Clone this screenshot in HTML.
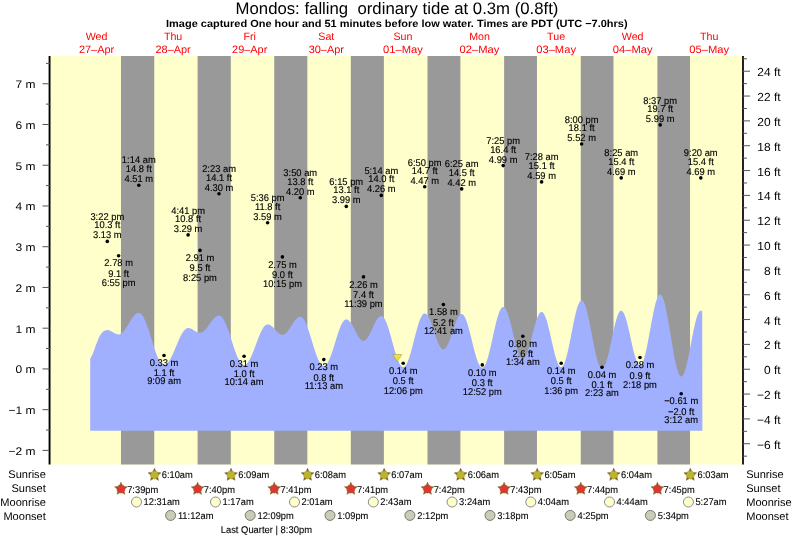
<!DOCTYPE html>
<html><head><meta charset="utf-8"><title>Mondos tide times</title>
<style>html,body{margin:0;padding:0;background:#fff}svg{display:block}text{font-family:"Liberation Sans",Arial,Helvetica,sans-serif;fill:#000;text-rendering:geometricPrecision}.t{font-size:9.8px;text-anchor:middle;fill:#000;stroke:#000;stroke-width:0.12px}.s{font-size:9.8px;stroke:#000;stroke-width:0.1px}.ax{font-size:11px}.ti{font-size:16.67px;text-anchor:middle}.su{font-size:10.4px;font-weight:bold;text-anchor:middle}.d{font-size:10.67px;fill:#ff0000;text-anchor:middle}.l{font-size:11.05px;text-anchor:end}</style></head><body>
<svg width="793" height="538" viewBox="0 0 793 538">
<rect width="793" height="538" fill="#fff"/>
<rect x="50" y="56" width="692" height="408.5" fill="#ffffcc"/>
<rect x="120.96" y="56" width="33.31" height="408.5" fill="#999999"/>
<rect x="197.60" y="56" width="33.20" height="408.5" fill="#999999"/>
<rect x="274.24" y="56" width="33.10" height="408.5" fill="#999999"/>
<rect x="350.83" y="56" width="33.05" height="408.5" fill="#999999"/>
<rect x="427.48" y="56" width="32.94" height="408.5" fill="#999999"/>
<rect x="504.12" y="56" width="32.83" height="408.5" fill="#999999"/>
<rect x="580.76" y="56" width="32.73" height="408.5" fill="#999999"/>
<rect x="657.41" y="56" width="32.62" height="408.5" fill="#999999"/>
<path d="M90.2,430.7L90.2,358.5L90.7,357.9L91.2,357.1L91.7,356.1L92.2,355.1L92.7,353.9L93.2,352.6L93.7,351.3L94.2,350.0L94.7,348.6L95.2,347.2L95.7,345.8L96.2,344.4L96.7,343.0L97.2,341.7L97.7,340.5L98.2,339.3L98.7,338.1L99.2,337.1L99.7,336.1L100.2,335.2L100.7,334.4L101.2,333.6L101.7,333.0L102.2,332.4L102.7,331.9L103.2,331.5L103.7,331.2L104.2,330.9L104.7,330.7L105.2,330.5L105.7,330.3L106.2,330.2L106.7,330.1L107.2,330.0L107.7,330.1L108.2,330.1L108.7,330.2L109.2,330.4L109.7,330.5L110.2,330.7L110.7,331.0L111.2,331.2L111.7,331.5L112.2,331.8L112.7,332.1L113.2,332.4L113.7,332.7L114.2,333.0L114.7,333.2L115.2,333.5L115.7,333.7L116.2,333.9L116.7,334.1L117.2,334.2L117.7,334.3L118.2,334.4L118.7,334.4L119.2,334.4L119.7,334.3L120.2,334.1L120.7,333.8L121.2,333.6L121.7,333.2L122.2,332.8L122.7,332.3L123.2,331.8L123.7,331.2L124.2,330.6L124.7,329.9L125.2,329.2L125.7,328.5L126.2,327.7L126.7,327.0L127.2,326.2L127.7,325.3L128.2,324.5L128.7,323.7L129.2,322.8L129.7,322.0L130.2,321.2L130.7,320.4L131.2,319.6L131.7,318.8L132.2,318.1L132.7,317.4L133.2,316.7L133.7,316.1L134.2,315.5L134.7,315.0L135.2,314.6L135.7,314.1L136.2,313.8L136.7,313.5L137.2,313.2L137.7,313.1L138.2,313.0L138.7,312.9L139.2,313.0L139.7,313.1L140.2,313.3L140.7,313.7L141.2,314.1L141.7,314.6L142.2,315.2L142.7,316.0L143.2,316.8L143.7,317.6L144.2,318.6L144.7,319.7L145.2,320.8L145.7,322.0L146.2,323.2L146.7,324.5L147.2,325.9L147.7,327.3L148.2,328.8L148.7,330.3L149.2,331.8L149.7,333.4L150.2,335.0L150.7,336.6L151.2,338.2L151.7,339.8L152.2,341.4L152.7,343.0L153.2,344.6L153.7,346.2L154.2,347.7L154.7,349.2L155.2,350.7L155.7,352.1L156.2,353.4L156.7,354.8L157.2,356.0L157.7,357.2L158.2,358.3L158.7,359.3L159.2,360.3L159.7,361.1L160.2,361.9L160.7,362.6L161.2,363.2L161.7,363.7L162.2,364.2L162.7,364.5L163.2,364.7L163.7,364.8L164.2,364.8L164.7,364.8L165.2,364.6L165.7,364.4L166.2,364.1L166.7,363.7L167.2,363.3L167.7,362.8L168.2,362.2L168.7,361.5L169.2,360.8L169.7,360.0L170.2,359.2L170.7,358.3L171.2,357.4L171.7,356.4L172.2,355.3L172.7,354.3L173.2,353.2L173.7,352.0L174.2,350.9L174.7,349.7L175.2,348.5L175.7,347.3L176.2,346.1L176.7,344.9L177.2,343.7L177.7,342.5L178.2,341.4L178.7,340.2L179.2,339.1L179.7,338.0L180.2,337.0L180.7,336.0L181.2,335.0L181.7,334.1L182.2,333.2L182.7,332.4L183.2,331.7L183.7,331.0L184.2,330.4L184.7,329.8L185.2,329.4L185.7,329.0L186.2,328.6L186.7,328.4L187.2,328.2L187.7,328.1L188.2,328.1L188.7,328.1L189.2,328.2L189.7,328.3L190.2,328.4L190.7,328.6L191.2,328.8L191.7,329.1L192.2,329.3L192.7,329.6L193.2,329.9L193.7,330.2L194.2,330.5L194.7,330.8L195.2,331.1L195.7,331.4L196.2,331.7L196.7,332.0L197.2,332.2L197.7,332.4L198.2,332.5L198.7,332.7L199.2,332.7L199.7,332.8L200.2,332.8L200.7,332.7L201.2,332.6L201.7,332.5L202.2,332.2L202.7,331.9L203.2,331.6L203.7,331.2L204.2,330.8L204.7,330.3L205.2,329.8L205.7,329.2L206.2,328.7L206.7,328.0L207.2,327.4L207.7,326.7L208.2,326.0L208.7,325.3L209.2,324.6L209.7,323.9L210.2,323.2L210.7,322.5L211.2,321.8L211.7,321.1L212.2,320.5L212.7,319.8L213.2,319.2L213.7,318.7L214.2,318.1L214.7,317.7L215.2,317.2L215.7,316.8L216.2,316.5L216.7,316.2L217.2,315.9L217.7,315.7L218.2,315.6L218.7,315.5L219.2,315.5L219.7,315.6L220.2,315.8L220.7,316.1L221.2,316.4L221.7,316.9L222.2,317.5L222.7,318.1L223.2,318.8L223.7,319.7L224.2,320.6L224.7,321.5L225.2,322.6L225.7,323.7L226.2,324.9L226.7,326.1L227.2,327.4L227.7,328.8L228.2,330.2L228.7,331.6L229.2,333.1L229.7,334.6L230.2,336.1L230.7,337.6L231.2,339.2L231.7,340.7L232.2,342.3L232.7,343.8L233.2,345.4L233.7,346.9L234.2,348.4L234.7,349.8L235.2,351.2L235.7,352.6L236.2,353.9L236.7,355.2L237.2,356.4L237.7,357.5L238.2,358.6L238.7,359.6L239.2,360.6L239.7,361.4L240.2,362.2L240.7,362.9L241.2,363.5L241.7,364.0L242.2,364.4L242.7,364.7L243.2,364.9L243.7,365.1L244.2,365.1L244.7,365.0L245.2,364.9L245.7,364.6L246.2,364.3L246.7,363.9L247.2,363.3L247.7,362.8L248.2,362.1L248.7,361.3L249.2,360.5L249.7,359.6L250.2,358.7L250.7,357.6L251.2,356.6L251.7,355.4L252.2,354.2L252.7,353.0L253.2,351.8L253.7,350.5L254.2,349.1L254.7,347.8L255.2,346.5L255.7,345.1L256.2,343.7L256.7,342.4L257.2,341.0L257.7,339.7L258.2,338.4L258.7,337.1L259.2,335.9L259.7,334.7L260.2,333.5L260.7,332.4L261.2,331.3L261.7,330.4L262.2,329.4L262.7,328.6L263.2,327.8L263.7,327.0L264.2,326.4L264.7,325.9L265.2,325.4L265.7,325.0L266.2,324.7L266.7,324.5L267.2,324.4L267.7,324.4L268.2,324.4L268.7,324.5L269.2,324.6L269.7,324.9L270.2,325.1L270.7,325.4L271.2,325.8L271.7,326.2L272.2,326.6L272.7,327.1L273.2,327.6L273.7,328.1L274.2,328.7L274.7,329.2L275.2,329.8L275.7,330.3L276.2,330.9L276.7,331.4L277.2,331.9L277.7,332.4L278.2,332.8L278.7,333.2L279.2,333.6L279.7,333.9L280.2,334.2L280.7,334.4L281.2,334.6L281.7,334.7L282.2,334.8L282.7,334.8L283.2,334.7L283.7,334.6L284.2,334.3L284.7,334.1L285.2,333.7L285.7,333.3L286.2,332.9L286.7,332.4L287.2,331.8L287.7,331.2L288.2,330.5L288.7,329.8L289.2,329.1L289.7,328.4L290.2,327.6L290.7,326.8L291.2,326.0L291.7,325.2L292.2,324.4L292.7,323.6L293.2,322.9L293.7,322.1L294.2,321.4L294.7,320.8L295.2,320.1L295.7,319.5L296.2,319.0L296.7,318.5L297.2,318.0L297.7,317.7L298.2,317.4L298.7,317.1L299.2,316.9L299.7,316.8L300.2,316.8L300.7,316.8L301.2,317.0L301.7,317.2L302.2,317.6L302.7,318.1L303.2,318.7L303.7,319.3L304.2,320.1L304.7,321.0L305.2,321.9L305.7,323.0L306.2,324.1L306.7,325.3L307.2,326.6L307.7,328.0L308.2,329.4L308.7,330.8L309.2,332.3L309.7,333.9L310.2,335.5L310.7,337.1L311.2,338.7L311.7,340.3L312.2,342.0L312.7,343.6L313.2,345.2L313.7,346.9L314.2,348.4L314.7,350.0L315.2,351.5L315.7,353.0L316.2,354.4L316.7,355.8L317.2,357.1L317.7,358.3L318.2,359.5L318.7,360.6L319.2,361.6L319.7,362.5L320.2,363.3L320.7,364.0L321.2,364.6L321.7,365.1L322.2,365.5L322.7,365.8L323.2,366.0L323.7,366.1L324.2,366.0L324.7,365.9L325.2,365.6L325.7,365.3L326.2,364.8L326.7,364.2L327.2,363.5L327.7,362.7L328.2,361.8L328.7,360.8L329.2,359.8L329.7,358.6L330.2,357.4L330.7,356.0L331.2,354.7L331.7,353.2L332.2,351.8L332.7,350.2L333.2,348.7L333.7,347.1L334.2,345.5L334.7,343.8L335.2,342.2L335.7,340.6L336.2,338.9L336.7,337.3L337.2,335.8L337.7,334.2L338.2,332.7L338.7,331.3L339.2,329.9L339.7,328.6L340.2,327.3L340.7,326.1L341.2,325.0L341.7,324.0L342.2,323.1L342.7,322.2L343.2,321.5L343.7,320.9L344.2,320.3L344.7,319.9L345.2,319.6L345.7,319.5L346.2,319.4L346.7,319.4L347.2,319.5L347.7,319.8L348.2,320.0L348.7,320.4L349.2,320.9L349.7,321.4L350.2,322.0L350.7,322.7L351.2,323.5L351.7,324.2L352.2,325.1L352.7,326.0L353.2,326.9L353.7,327.8L354.2,328.8L354.7,329.8L355.2,330.8L355.7,331.7L356.2,332.7L356.7,333.6L357.2,334.5L357.7,335.4L358.2,336.2L358.7,337.0L359.2,337.7L359.7,338.4L360.2,339.0L360.7,339.5L361.2,339.9L361.7,340.3L362.2,340.6L362.7,340.8L363.2,340.9L363.7,340.9L364.2,340.8L364.7,340.6L365.2,340.3L365.7,339.9L366.2,339.5L366.7,338.9L367.2,338.3L367.7,337.6L368.2,336.8L368.7,336.0L369.2,335.1L369.7,334.1L370.2,333.1L370.7,332.1L371.2,331.1L371.7,330.0L372.2,328.9L372.7,327.8L373.2,326.7L373.7,325.6L374.2,324.6L374.7,323.6L375.2,322.6L375.7,321.6L376.2,320.7L376.7,319.9L377.2,319.2L377.7,318.5L378.2,317.9L378.7,317.3L379.2,316.9L379.7,316.5L380.2,316.3L380.7,316.1L381.2,316.0L381.7,316.1L382.2,316.2L382.7,316.5L383.2,317.0L383.7,317.5L384.2,318.2L384.7,319.0L385.2,319.9L385.7,320.9L386.2,322.1L386.7,323.3L387.2,324.6L387.7,326.0L388.2,327.5L388.7,329.1L389.2,330.7L389.7,332.4L390.2,334.1L390.7,335.9L391.2,337.7L391.7,339.5L392.2,341.4L392.7,343.2L393.2,345.0L393.7,346.8L394.2,348.6L394.7,350.4L395.2,352.1L395.7,353.7L396.2,355.3L396.7,356.8L397.2,358.2L397.7,359.6L398.2,360.8L398.7,362.0L399.2,363.1L399.7,364.0L400.2,364.8L400.7,365.5L401.2,366.1L401.7,366.6L402.2,366.9L402.7,367.1L403.2,367.2L403.7,367.1L404.2,366.9L404.7,366.6L405.2,366.1L405.7,365.4L406.2,364.7L406.7,363.8L407.2,362.8L407.7,361.6L408.2,360.4L408.7,359.0L409.2,357.6L409.7,356.0L410.2,354.4L410.7,352.7L411.2,350.9L411.7,349.1L412.2,347.2L412.7,345.3L413.2,343.3L413.7,341.4L414.2,339.4L414.7,337.4L415.2,335.5L415.7,333.6L416.2,331.7L416.7,329.9L417.2,328.1L417.7,326.4L418.2,324.7L418.7,323.2L419.2,321.7L419.7,320.3L420.2,319.1L420.7,317.9L421.2,316.9L421.7,316.0L422.2,315.2L422.7,314.6L423.2,314.1L423.7,313.7L424.2,313.5L424.7,313.4L425.2,313.5L425.7,313.7L426.2,314.0L426.7,314.4L427.2,315.0L427.7,315.6L428.2,316.4L428.7,317.3L429.2,318.3L429.7,319.4L430.2,320.5L430.7,321.8L431.2,323.1L431.7,324.5L432.2,325.9L432.7,327.3L433.2,328.8L433.7,330.3L434.2,331.8L434.7,333.3L435.2,334.8L435.7,336.3L436.2,337.7L436.7,339.1L437.2,340.4L437.7,341.7L438.2,342.9L438.7,344.0L439.2,345.0L439.7,346.0L440.2,346.8L440.7,347.5L441.2,348.1L441.7,348.6L442.2,349.0L442.7,349.2L443.2,349.3L443.7,349.3L444.2,349.1L444.7,348.9L445.2,348.5L445.7,347.9L446.2,347.3L446.7,346.5L447.2,345.7L447.7,344.7L448.2,343.6L448.7,342.5L449.2,341.2L449.7,339.9L450.2,338.5L450.7,337.1L451.2,335.7L451.7,334.2L452.2,332.7L452.7,331.2L453.2,329.7L453.7,328.2L454.2,326.7L454.7,325.3L455.2,323.9L455.7,322.5L456.2,321.3L456.7,320.1L457.2,319.0L457.7,318.0L458.2,317.1L458.7,316.3L459.2,315.6L459.7,315.1L460.2,314.6L460.7,314.3L461.2,314.1L461.7,314.0L462.2,314.1L462.7,314.4L463.2,314.8L463.7,315.3L464.2,316.0L464.7,316.8L465.2,317.8L465.7,318.9L466.2,320.2L466.7,321.5L467.2,323.0L467.7,324.6L468.2,326.3L468.7,328.0L469.2,329.9L469.7,331.8L470.2,333.7L470.7,335.7L471.2,337.7L471.7,339.8L472.2,341.8L472.7,343.9L473.2,345.9L473.7,347.9L474.2,349.8L474.7,351.7L475.2,353.6L475.7,355.3L476.2,357.0L476.7,358.6L477.2,360.1L477.7,361.4L478.2,362.7L478.7,363.8L479.2,364.8L479.7,365.7L480.2,366.4L480.7,366.9L481.2,367.3L481.7,367.6L482.2,367.7L482.7,367.6L483.2,367.4L483.7,367.0L484.2,366.4L484.7,365.7L485.2,364.8L485.7,363.7L486.2,362.5L486.7,361.2L487.2,359.7L487.7,358.1L488.2,356.4L488.7,354.5L489.2,352.6L489.7,350.6L490.2,348.5L490.7,346.4L491.2,344.2L491.7,341.9L492.2,339.7L492.7,337.4L493.2,335.1L493.7,332.8L494.2,330.6L494.7,328.4L495.2,326.2L495.7,324.1L496.2,322.1L496.7,320.2L497.2,318.4L497.7,316.6L498.2,315.0L498.7,313.5L499.2,312.2L499.7,311.0L500.2,309.9L500.7,309.0L501.2,308.3L501.7,307.7L502.2,307.3L502.7,307.0L503.2,307.0L503.7,307.1L504.2,307.3L504.7,307.7L505.2,308.3L505.7,309.1L506.2,310.0L506.7,311.0L507.2,312.2L507.7,313.5L508.2,315.0L508.7,316.5L509.2,318.2L509.7,320.0L510.2,321.8L510.7,323.7L511.2,325.7L511.7,327.7L512.2,329.8L512.7,331.8L513.2,333.9L513.7,336.0L514.2,338.0L514.7,340.1L515.2,342.0L515.7,344.0L516.2,345.8L516.7,347.6L517.2,349.3L517.7,350.8L518.2,352.3L518.7,353.6L519.2,354.8L519.7,355.9L520.2,356.8L520.7,357.6L521.2,358.2L521.7,358.6L522.2,358.9L522.7,359.0L523.2,358.9L523.7,358.7L524.2,358.3L524.7,357.8L525.2,357.1L525.7,356.3L526.2,355.3L526.7,354.2L527.2,352.9L527.7,351.5L528.2,350.0L528.7,348.5L529.2,346.8L529.7,345.0L530.2,343.2L530.7,341.3L531.2,339.4L531.7,337.4L532.2,335.5L532.7,333.5L533.2,331.6L533.7,329.7L534.2,327.8L534.7,325.9L535.2,324.2L535.7,322.5L536.2,320.9L536.7,319.4L537.2,318.0L537.7,316.8L538.2,315.7L538.7,314.7L539.2,313.8L539.7,313.1L540.2,312.6L540.7,312.2L541.2,312.0L541.7,311.9L542.2,312.1L542.7,312.3L543.2,312.8L543.7,313.5L544.2,314.3L544.7,315.2L545.2,316.4L545.7,317.7L546.2,319.1L546.7,320.6L547.2,322.3L547.7,324.1L548.2,326.0L548.7,327.9L549.2,330.0L549.7,332.1L550.2,334.3L550.7,336.4L551.2,338.7L551.7,340.9L552.2,343.1L552.7,345.3L553.2,347.4L553.7,349.5L554.2,351.5L554.7,353.5L555.2,355.4L555.7,357.1L556.2,358.8L556.7,360.3L557.2,361.7L557.7,363.0L558.2,364.1L558.7,365.0L559.2,365.8L559.7,366.4L560.2,366.8L560.7,367.1L561.2,367.2L561.7,367.1L562.2,366.8L562.7,366.3L563.2,365.6L563.7,364.7L564.2,363.7L564.7,362.4L565.2,361.0L565.7,359.5L566.2,357.8L566.7,355.9L567.2,353.9L567.7,351.8L568.2,349.6L568.7,347.3L569.2,344.9L569.7,342.4L570.2,339.9L570.7,337.4L571.2,334.8L571.7,332.3L572.2,329.7L572.7,327.2L573.2,324.7L573.7,322.2L574.2,319.9L574.7,317.6L575.2,315.4L575.7,313.3L576.2,311.3L576.7,309.5L577.2,307.8L577.7,306.3L578.2,304.9L578.7,303.7L579.2,302.7L579.7,301.8L580.2,301.2L580.7,300.7L581.2,300.5L581.7,300.4L582.2,300.5L582.7,300.9L583.2,301.4L583.7,302.1L584.2,303.1L584.7,304.2L585.2,305.5L585.7,306.9L586.2,308.5L586.7,310.3L587.2,312.2L587.7,314.3L588.2,316.5L588.7,318.8L589.2,321.1L589.7,323.6L590.2,326.1L590.7,328.7L591.2,331.3L591.7,333.9L592.2,336.5L592.7,339.1L593.2,341.7L593.7,344.2L594.2,346.7L594.7,349.1L595.2,351.4L595.7,353.7L596.2,355.8L596.7,357.7L597.2,359.6L597.7,361.3L598.2,362.8L598.7,364.2L599.2,365.3L599.7,366.3L600.2,367.2L600.7,367.8L601.2,368.2L601.7,368.4L602.2,368.4L602.7,368.2L603.2,367.9L603.7,367.3L604.2,366.6L604.7,365.6L605.2,364.6L605.7,363.3L606.2,361.9L606.7,360.3L607.2,358.6L607.7,356.8L608.2,354.8L608.7,352.8L609.2,350.6L609.7,348.4L610.2,346.2L610.7,343.8L611.2,341.5L611.7,339.2L612.2,336.8L612.7,334.5L613.2,332.2L613.7,329.9L614.2,327.7L614.7,325.6L615.2,323.6L615.7,321.7L616.2,319.9L616.7,318.3L617.2,316.7L617.7,315.4L618.2,314.2L618.7,313.1L619.2,312.3L619.7,311.6L620.2,311.1L620.7,310.8L621.2,310.7L621.7,310.8L622.2,311.0L622.7,311.5L623.2,312.2L623.7,313.0L624.2,314.0L624.7,315.2L625.2,316.5L625.7,318.0L626.2,319.6L626.7,321.3L627.2,323.2L627.7,325.2L628.2,327.3L628.7,329.4L629.2,331.6L629.7,333.8L630.2,336.1L630.7,338.4L631.2,340.7L631.7,343.0L632.2,345.2L632.7,347.4L633.2,349.5L633.7,351.5L634.2,353.5L634.7,355.3L635.2,357.0L635.7,358.6L636.2,360.1L636.7,361.3L637.2,362.5L637.7,363.4L638.2,364.2L638.7,364.8L639.2,365.2L639.7,365.4L640.2,365.4L640.7,365.3L641.2,364.9L641.7,364.2L642.2,363.4L642.7,362.4L643.2,361.2L643.7,359.8L644.2,358.2L644.7,356.4L645.2,354.5L645.7,352.4L646.2,350.2L646.7,347.9L647.2,345.5L647.7,342.9L648.2,340.3L648.7,337.6L649.2,334.9L649.7,332.2L650.2,329.4L650.7,326.7L651.2,323.9L651.7,321.2L652.2,318.6L652.7,316.0L653.2,313.5L653.7,311.1L654.2,308.8L654.7,306.7L655.2,304.7L655.7,302.8L656.2,301.1L656.7,299.6L657.2,298.3L657.7,297.1L658.2,296.2L658.7,295.5L659.2,295.0L659.7,294.6L660.2,294.5L660.7,294.7L661.2,295.0L661.7,295.6L662.2,296.4L662.7,297.4L663.2,298.7L663.7,300.1L664.2,301.8L664.7,303.6L665.2,305.6L665.7,307.8L666.2,310.1L666.7,312.6L667.2,315.2L667.7,317.9L668.2,320.7L668.7,323.6L669.2,326.5L669.7,329.6L670.2,332.6L670.7,335.7L671.2,338.7L671.7,341.8L672.2,344.8L672.7,347.7L673.2,350.6L673.7,353.4L674.2,356.1L674.7,358.7L675.2,361.2L675.7,363.5L676.2,365.6L676.7,367.6L677.2,369.5L677.7,371.1L678.2,372.5L678.7,373.7L679.2,374.7L679.7,375.5L680.2,376.1L680.7,376.4L681.2,376.5L681.7,376.4L682.2,376.1L682.7,375.5L683.2,374.8L683.7,373.9L684.2,372.7L684.7,371.4L685.2,369.9L685.7,368.2L686.2,366.4L686.7,364.4L687.2,362.3L687.7,360.1L688.2,357.7L688.7,355.3L689.2,352.8L689.7,350.3L690.2,347.6L690.7,345.0L691.2,342.4L691.7,339.7L692.2,337.1L692.7,334.6L693.2,332.1L693.7,329.6L694.2,327.3L694.7,325.0L695.2,322.9L695.7,320.9L696.2,319.1L696.7,317.4L697.2,315.9L697.7,314.6L698.2,313.4L698.7,312.5L699.2,311.7L699.7,311.2L700.2,310.8L700.7,310.7L701.2,310.8L701.7,311.0L702.2,311.4L702.4,430.7Z" fill="#a0b0ff"/>
<rect x="48.6" y="56" width="1.9" height="408.5" fill="#000"/>
<rect x="742" y="56" width="2" height="408.5" fill="#222"/>
<rect x="42.5" y="449.91" width="7" height="1" fill="#555"/>
<text class="ax" transform="translate(35.40 454.76) scale(1.09 1)" text-anchor="end">−2 m</text>
<rect x="42.5" y="409.17" width="7" height="1" fill="#555"/>
<text class="ax" transform="translate(35.40 414.02) scale(1.09 1)" text-anchor="end">−1 m</text>
<rect x="42.5" y="368.43" width="7" height="1" fill="#555"/>
<text class="ax" transform="translate(35.40 373.28) scale(1.09 1)" text-anchor="end">0 m</text>
<rect x="42.5" y="327.69" width="7" height="1" fill="#555"/>
<text class="ax" transform="translate(35.40 332.54) scale(1.09 1)" text-anchor="end">1 m</text>
<rect x="42.5" y="286.95" width="7" height="1" fill="#555"/>
<text class="ax" transform="translate(35.40 291.80) scale(1.09 1)" text-anchor="end">2 m</text>
<rect x="42.5" y="246.21" width="7" height="1" fill="#555"/>
<text class="ax" transform="translate(35.40 251.06) scale(1.09 1)" text-anchor="end">3 m</text>
<rect x="42.5" y="205.47" width="7" height="1" fill="#555"/>
<text class="ax" transform="translate(35.40 210.32) scale(1.09 1)" text-anchor="end">4 m</text>
<rect x="42.5" y="164.73" width="7" height="1" fill="#555"/>
<text class="ax" transform="translate(35.40 169.58) scale(1.09 1)" text-anchor="end">5 m</text>
<rect x="42.5" y="123.99" width="7" height="1" fill="#555"/>
<text class="ax" transform="translate(35.40 128.84) scale(1.09 1)" text-anchor="end">6 m</text>
<rect x="42.5" y="83.25" width="7" height="1" fill="#555"/>
<text class="ax" transform="translate(35.40 88.10) scale(1.09 1)" text-anchor="end">7 m</text>
<rect x="46" y="429.54" width="4" height="1" fill="#555"/>
<rect x="46" y="388.80" width="4" height="1" fill="#555"/>
<rect x="46" y="348.06" width="4" height="1" fill="#555"/>
<rect x="46" y="307.32" width="4" height="1" fill="#555"/>
<rect x="46" y="266.58" width="4" height="1" fill="#555"/>
<rect x="46" y="225.84" width="4" height="1" fill="#555"/>
<rect x="46" y="185.10" width="4" height="1" fill="#555"/>
<rect x="46" y="144.36" width="4" height="1" fill="#555"/>
<rect x="46" y="103.62" width="4" height="1" fill="#555"/>
<rect x="46" y="62.88" width="4" height="1" fill="#555"/>
<rect x="743" y="455.65" width="4" height="1" fill="#555"/>
<rect x="743" y="443.24" width="7" height="1" fill="#555"/>
<text class="ax" transform="translate(780.70 448.74) scale(1.026 1)" text-anchor="end" style="font-size:11.7px">−6 ft</text>
<rect x="743" y="430.82" width="4" height="1" fill="#555"/>
<rect x="743" y="418.40" width="7" height="1" fill="#555"/>
<text class="ax" transform="translate(780.70 423.90) scale(1.026 1)" text-anchor="end" style="font-size:11.7px">−4 ft</text>
<rect x="743" y="405.98" width="4" height="1" fill="#555"/>
<rect x="743" y="393.57" width="7" height="1" fill="#555"/>
<text class="ax" transform="translate(780.70 399.07) scale(1.026 1)" text-anchor="end" style="font-size:11.7px">−2 ft</text>
<rect x="743" y="381.15" width="4" height="1" fill="#555"/>
<rect x="743" y="368.73" width="7" height="1" fill="#555"/>
<text class="ax" transform="translate(780.70 374.23) scale(1.026 1)" text-anchor="end" style="font-size:11.7px">0 ft</text>
<rect x="743" y="356.31" width="4" height="1" fill="#555"/>
<rect x="743" y="343.89" width="7" height="1" fill="#555"/>
<text class="ax" transform="translate(780.70 349.39) scale(1.026 1)" text-anchor="end" style="font-size:11.7px">2 ft</text>
<rect x="743" y="331.48" width="4" height="1" fill="#555"/>
<rect x="743" y="319.06" width="7" height="1" fill="#555"/>
<text class="ax" transform="translate(780.70 324.56) scale(1.026 1)" text-anchor="end" style="font-size:11.7px">4 ft</text>
<rect x="743" y="306.64" width="4" height="1" fill="#555"/>
<rect x="743" y="294.22" width="7" height="1" fill="#555"/>
<text class="ax" transform="translate(780.70 299.72) scale(1.026 1)" text-anchor="end" style="font-size:11.7px">6 ft</text>
<rect x="743" y="281.81" width="4" height="1" fill="#555"/>
<rect x="743" y="269.39" width="7" height="1" fill="#555"/>
<text class="ax" transform="translate(780.70 274.89) scale(1.026 1)" text-anchor="end" style="font-size:11.7px">8 ft</text>
<rect x="743" y="256.97" width="4" height="1" fill="#555"/>
<rect x="743" y="244.55" width="7" height="1" fill="#555"/>
<text class="ax" transform="translate(780.70 250.05) scale(1.026 1)" text-anchor="end" style="font-size:11.7px">10 ft</text>
<rect x="743" y="232.14" width="4" height="1" fill="#555"/>
<rect x="743" y="219.72" width="7" height="1" fill="#555"/>
<text class="ax" transform="translate(780.70 225.22) scale(1.026 1)" text-anchor="end" style="font-size:11.7px">12 ft</text>
<rect x="743" y="207.30" width="4" height="1" fill="#555"/>
<rect x="743" y="194.88" width="7" height="1" fill="#555"/>
<text class="ax" transform="translate(780.70 200.38) scale(1.026 1)" text-anchor="end" style="font-size:11.7px">14 ft</text>
<rect x="743" y="182.47" width="4" height="1" fill="#555"/>
<rect x="743" y="170.05" width="7" height="1" fill="#555"/>
<text class="ax" transform="translate(780.70 175.55) scale(1.026 1)" text-anchor="end" style="font-size:11.7px">16 ft</text>
<rect x="743" y="157.63" width="4" height="1" fill="#555"/>
<rect x="743" y="145.21" width="7" height="1" fill="#555"/>
<text class="ax" transform="translate(780.70 150.71) scale(1.026 1)" text-anchor="end" style="font-size:11.7px">18 ft</text>
<rect x="743" y="132.80" width="4" height="1" fill="#555"/>
<rect x="743" y="120.38" width="7" height="1" fill="#555"/>
<text class="ax" transform="translate(780.70 125.88) scale(1.026 1)" text-anchor="end" style="font-size:11.7px">20 ft</text>
<rect x="743" y="107.96" width="4" height="1" fill="#555"/>
<rect x="743" y="95.54" width="7" height="1" fill="#555"/>
<text class="ax" transform="translate(780.70 101.04) scale(1.026 1)" text-anchor="end" style="font-size:11.7px">22 ft</text>
<rect x="743" y="83.13" width="4" height="1" fill="#555"/>
<rect x="743" y="70.71" width="7" height="1" fill="#555"/>
<text class="ax" transform="translate(780.70 76.21) scale(1.026 1)" text-anchor="end" style="font-size:11.7px">24 ft</text>
<rect x="743" y="58.29" width="4" height="1" fill="#555"/>
<text class="ti" transform="translate(397.00 13.60) scale(1.005 1)" xml:space="preserve">Mondos: falling  ordinary tide at 0.3m (0.8ft)</text>
<text class="su" transform="translate(396.80 27.40) scale(1.0555 1)">Image captured One hour and 51 minutes before low water. Times are PDT (UTC −7.0hrs)</text>
<text class="d" x="96.5" y="39.9">Wed</text>
<text class="d" transform="translate(96.55 52.50) scale(1.025 1)">27–Apr</text>
<text class="d" x="173.1" y="39.9">Thu</text>
<text class="d" transform="translate(173.13 52.50) scale(1.025 1)">28–Apr</text>
<text class="d" x="249.7" y="39.9">Fri</text>
<text class="d" transform="translate(249.73 52.50) scale(1.025 1)">29–Apr</text>
<text class="d" x="326.3" y="39.9">Sat</text>
<text class="d" transform="translate(326.31 52.50) scale(1.025 1)">30–Apr</text>
<text class="d" x="402.9" y="39.9">Sun</text>
<text class="d" transform="translate(402.91 52.50) scale(1.05 1)">01–May</text>
<text class="d" x="479.5" y="39.9">Mon</text>
<text class="d" transform="translate(479.50 52.50) scale(1.05 1)">02–May</text>
<text class="d" x="556.1" y="39.9">Tue</text>
<text class="d" transform="translate(556.09 52.50) scale(1.05 1)">03–May</text>
<text class="d" x="632.7" y="39.9">Wed</text>
<text class="d" transform="translate(632.68 52.50) scale(1.05 1)">04–May</text>
<text class="d" x="709.3" y="39.9">Thu</text>
<text class="d" transform="translate(709.26 52.50) scale(1.05 1)">05–May</text>
<circle cx="107.3" cy="241.4" r="1.8" fill="#000"/>
<text class="t" transform="translate(107.29 220.21) scale(0.955 1)">3:22 pm</text>
<text class="t" transform="translate(107.29 228.46) scale(0.955 1)">10.3 ft</text>
<text class="t" transform="translate(107.29 238.31) scale(0.955 1)">3.13 m</text>
<circle cx="118.6" cy="255.7" r="1.8" fill="#000"/>
<text class="t" transform="translate(118.62 266.37) scale(0.955 1)">2.78 m</text>
<text class="t" transform="translate(118.62 276.67) scale(0.955 1)">9.1 ft</text>
<text class="t" transform="translate(118.62 285.97) scale(0.955 1)">6:55 pm</text>
<circle cx="138.8" cy="185.2" r="1.8" fill="#000"/>
<text class="t" transform="translate(138.78 163.39) scale(0.955 1)">1:14 am</text>
<text class="t" transform="translate(138.78 172.24) scale(0.955 1)">14.8 ft</text>
<text class="t" transform="translate(138.78 182.09) scale(0.955 1)">4.51 m</text>
<circle cx="164.0" cy="355.5" r="1.8" fill="#000"/>
<text class="t" transform="translate(164.04 366.19) scale(0.955 1)">0.33 m</text>
<text class="t" transform="translate(164.04 376.49) scale(0.955 1)">1.1 ft</text>
<text class="t" transform="translate(164.04 384.49) scale(0.955 1)">9:09 am</text>
<circle cx="188.1" cy="234.9" r="1.8" fill="#000"/>
<text class="t" transform="translate(188.08 213.70) scale(0.955 1)">4:41 pm</text>
<text class="t" transform="translate(188.08 221.95) scale(0.955 1)">10.8 ft</text>
<text class="t" transform="translate(188.08 231.80) scale(0.955 1)">3.29 m</text>
<circle cx="200.0" cy="250.4" r="1.8" fill="#000"/>
<text class="t" transform="translate(199.99 261.08) scale(0.955 1)">2.91 m</text>
<text class="t" transform="translate(199.99 271.38) scale(0.955 1)">9.5 ft</text>
<text class="t" transform="translate(199.99 280.68) scale(0.955 1)">8:25 pm</text>
<circle cx="219.0" cy="193.7" r="1.8" fill="#000"/>
<text class="t" transform="translate(219.04 171.95) scale(0.955 1)">2:23 am</text>
<text class="t" transform="translate(219.04 180.80) scale(0.955 1)">14.1 ft</text>
<text class="t" transform="translate(219.04 190.65) scale(0.955 1)">4.30 m</text>
<circle cx="244.1" cy="356.3" r="1.8" fill="#000"/>
<text class="t" transform="translate(244.09 367.00) scale(0.955 1)">0.31 m</text>
<text class="t" transform="translate(244.09 377.30) scale(0.955 1)">1.0 ft</text>
<text class="t" transform="translate(244.09 385.30) scale(0.955 1)">10:14 am</text>
<circle cx="267.6" cy="222.7" r="1.8" fill="#000"/>
<text class="t" transform="translate(267.60 201.47) scale(0.955 1)">5:36 pm</text>
<text class="t" transform="translate(267.60 209.72) scale(0.955 1)">11.8 ft</text>
<text class="t" transform="translate(267.60 219.57) scale(0.955 1)">3.59 m</text>
<circle cx="282.4" cy="256.9" r="1.8" fill="#000"/>
<text class="t" transform="translate(282.44 267.59) scale(0.955 1)">2.75 m</text>
<text class="t" transform="translate(282.44 277.89) scale(0.955 1)">9.0 ft</text>
<text class="t" transform="translate(282.44 287.19) scale(0.955 1)">10:15 pm</text>
<circle cx="300.3" cy="197.8" r="1.8" fill="#000"/>
<text class="t" transform="translate(300.25 176.02) scale(0.955 1)">3:50 am</text>
<text class="t" transform="translate(300.25 184.87) scale(0.955 1)">13.8 ft</text>
<text class="t" transform="translate(300.25 194.72) scale(0.955 1)">4.20 m</text>
<circle cx="323.8" cy="359.6" r="1.8" fill="#000"/>
<text class="t" transform="translate(323.82 370.26) scale(0.955 1)">0.23 m</text>
<text class="t" transform="translate(323.82 380.56) scale(0.955 1)">0.8 ft</text>
<text class="t" transform="translate(323.82 388.56) scale(0.955 1)">11:13 am</text>
<circle cx="346.3" cy="206.4" r="1.8" fill="#000"/>
<text class="t" transform="translate(346.26 185.18) scale(0.955 1)">6:15 pm</text>
<text class="t" transform="translate(346.26 193.43) scale(0.955 1)">13.1 ft</text>
<text class="t" transform="translate(346.26 203.28) scale(0.955 1)">3.99 m</text>
<circle cx="363.5" cy="276.9" r="1.8" fill="#000"/>
<text class="t" transform="translate(363.49 287.56) scale(0.955 1)">2.26 m</text>
<text class="t" transform="translate(363.49 297.86) scale(0.955 1)">7.4 ft</text>
<text class="t" transform="translate(363.49 307.16) scale(0.955 1)">11:39 pm</text>
<circle cx="381.3" cy="195.4" r="1.8" fill="#000"/>
<text class="t" transform="translate(381.31 173.58) scale(0.955 1)">5:14 am</text>
<text class="t" transform="translate(381.31 182.43) scale(0.955 1)">14.0 ft</text>
<text class="t" transform="translate(381.31 192.28) scale(0.955 1)">4.26 m</text>
<circle cx="403.2" cy="363.2" r="1.8" fill="#000"/>
<text class="t" transform="translate(403.22 373.93) scale(0.955 1)">0.14 m</text>
<text class="t" transform="translate(403.22 384.23) scale(0.955 1)">0.5 ft</text>
<text class="t" transform="translate(403.22 393.53) scale(0.955 1)">12:06 pm</text>
<circle cx="424.7" cy="186.8" r="1.8" fill="#000"/>
<text class="t" transform="translate(424.71 165.62) scale(0.955 1)">6:50 pm</text>
<text class="t" transform="translate(424.71 173.87) scale(0.955 1)">14.7 ft</text>
<text class="t" transform="translate(424.71 183.72) scale(0.955 1)">4.47 m</text>
<circle cx="443.4" cy="304.6" r="1.8" fill="#000"/>
<text class="t" transform="translate(443.38 315.26) scale(0.955 1)">1.58 m</text>
<text class="t" transform="translate(443.38 325.56) scale(0.955 1)">5.2 ft</text>
<text class="t" transform="translate(443.38 333.56) scale(0.955 1)">12:41 am</text>
<circle cx="461.7" cy="188.9" r="1.8" fill="#000"/>
<text class="t" transform="translate(461.68 167.06) scale(0.955 1)">6:25 am</text>
<text class="t" transform="translate(461.68 175.91) scale(0.955 1)">14.5 ft</text>
<text class="t" transform="translate(461.68 185.76) scale(0.955 1)">4.42 m</text>
<circle cx="482.3" cy="364.9" r="1.8" fill="#000"/>
<text class="t" transform="translate(482.26 375.56) scale(0.955 1)">0.10 m</text>
<text class="t" transform="translate(482.26 385.86) scale(0.955 1)">0.3 ft</text>
<text class="t" transform="translate(482.26 395.16) scale(0.955 1)">12:52 pm</text>
<circle cx="503.2" cy="165.6" r="1.8" fill="#000"/>
<text class="t" transform="translate(503.16 144.44) scale(0.955 1)">7:25 pm</text>
<text class="t" transform="translate(503.16 152.69) scale(0.955 1)">16.4 ft</text>
<text class="t" transform="translate(503.16 162.54) scale(0.955 1)">4.99 m</text>
<circle cx="522.8" cy="336.3" r="1.8" fill="#000"/>
<text class="t" transform="translate(522.79 347.04) scale(0.955 1)">0.80 m</text>
<text class="t" transform="translate(522.79 357.34) scale(0.955 1)">2.6 ft</text>
<text class="t" transform="translate(522.79 365.34) scale(0.955 1)">1:34 am</text>
<circle cx="541.6" cy="181.9" r="1.8" fill="#000"/>
<text class="t" transform="translate(541.62 160.13) scale(0.955 1)">7:28 am</text>
<text class="t" transform="translate(541.62 168.98) scale(0.955 1)">15.1 ft</text>
<text class="t" transform="translate(541.62 178.83) scale(0.955 1)">4.59 m</text>
<circle cx="561.2" cy="363.2" r="1.8" fill="#000"/>
<text class="t" transform="translate(561.19 373.93) scale(0.955 1)">0.14 m</text>
<text class="t" transform="translate(561.19 384.23) scale(0.955 1)">0.5 ft</text>
<text class="t" transform="translate(561.19 393.53) scale(0.955 1)">1:36 pm</text>
<circle cx="581.6" cy="144.0" r="1.8" fill="#000"/>
<text class="t" transform="translate(581.62 122.85) scale(0.955 1)">8:00 pm</text>
<text class="t" transform="translate(581.62 131.10) scale(0.955 1)">18.1 ft</text>
<text class="t" transform="translate(581.62 140.95) scale(0.955 1)">5.52 m</text>
<circle cx="602.0" cy="367.3" r="1.8" fill="#000"/>
<text class="t" transform="translate(601.99 378.00) scale(0.955 1)">0.04 m</text>
<text class="t" transform="translate(601.99 388.30) scale(0.955 1)">0.1 ft</text>
<text class="t" transform="translate(601.99 396.30) scale(0.955 1)">2:23 am</text>
<circle cx="621.2" cy="177.9" r="1.8" fill="#000"/>
<text class="t" transform="translate(621.24 156.06) scale(0.955 1)">8:25 am</text>
<text class="t" transform="translate(621.24 164.91) scale(0.955 1)">15.4 ft</text>
<text class="t" transform="translate(621.24 174.76) scale(0.955 1)">4.69 m</text>
<circle cx="640.0" cy="357.5" r="1.8" fill="#000"/>
<text class="t" transform="translate(640.01 368.22) scale(0.955 1)">0.28 m</text>
<text class="t" transform="translate(640.01 378.52) scale(0.955 1)">0.9 ft</text>
<text class="t" transform="translate(640.01 387.82) scale(0.955 1)">2:18 pm</text>
<circle cx="660.2" cy="124.9" r="1.8" fill="#000"/>
<text class="t" transform="translate(660.17 103.70) scale(0.955 1)">8:37 pm</text>
<text class="t" transform="translate(660.17 111.95) scale(0.955 1)">19.7 ft</text>
<text class="t" transform="translate(660.17 121.80) scale(0.955 1)">5.99 m</text>
<circle cx="681.2" cy="393.8" r="1.8" fill="#000"/>
<text class="t" transform="translate(681.18 404.48) scale(0.955 1)">−0.61 m</text>
<text class="t" transform="translate(681.18 414.78) scale(0.955 1)">−2.0 ft</text>
<text class="t" transform="translate(681.18 422.78) scale(0.955 1)">3:12 am</text>
<circle cx="700.8" cy="177.9" r="1.8" fill="#000"/>
<text class="t" transform="translate(700.76 156.06) scale(0.955 1)">9:20 am</text>
<text class="t" transform="translate(700.76 164.91) scale(0.955 1)">15.4 ft</text>
<text class="t" transform="translate(700.76 174.76) scale(0.955 1)">4.69 m</text>
<polygon points="392.7,354.5 401.8,354.5 397.25,361.6" fill="#ebe43c" stroke="#8f8a30" stroke-width="0.45"/>
<text class="l" x="45.8" y="478.3">Sunrise</text>
<text class="l" x="746.2" y="478.3" style="text-anchor:start">Sunrise</text>
<text class="l" x="45.8" y="492.2">Sunset</text>
<text class="l" x="746.2" y="492.2" style="text-anchor:start">Sunset</text>
<text class="l" x="45.8" y="505.8">Moonrise</text>
<text class="l" x="746.2" y="505.8" style="text-anchor:start">Moonrise</text>
<text class="l" x="45.8" y="519.6">Moonset</text>
<text class="l" x="746.2" y="519.6" style="text-anchor:start">Moonset</text>
<polygon points="154.52,468.20 156.34,472.39 160.89,472.83 157.47,475.86 158.46,480.32 154.52,478.00 150.58,480.32 151.57,475.86 148.15,472.83 152.70,472.39" fill="#85601c" stroke="#85601c" stroke-width="0.5"/><polygon points="157.05,471.42 158.61,476.23 154.52,479.20 150.43,476.23 151.99,471.42" fill="#b9b432" stroke="#b9b432" stroke-width="0.6" stroke-linejoin="round"/>
<text class="s" transform="translate(161.72 477.50) scale(0.952 1)">6:10am</text>
<polygon points="120.96,482.20 122.78,486.39 127.33,486.83 123.91,489.86 124.90,494.32 120.96,492.00 117.02,494.32 118.01,489.86 114.59,486.83 119.14,486.39" fill="#85601c" stroke="#85601c" stroke-width="0.5"/><polygon points="123.49,485.42 125.05,490.23 120.96,493.20 116.87,490.23 118.43,485.42" fill="#dc3732" stroke="#dc3732" stroke-width="0.6" stroke-linejoin="round"/>
<text class="s" transform="translate(127.16 492.80) scale(0.952 1)">7:39pm</text>
<circle cx="136.5" cy="502" r="5" fill="#ffffcc" stroke="#8c8c8c" stroke-width="1"/>
<text class="s" transform="translate(143.54 505.40) scale(0.952 1)">12:31am</text>
<polygon points="231.06,468.20 232.88,472.39 237.43,472.83 234.00,475.86 234.99,480.32 231.06,478.00 227.12,480.32 228.11,475.86 224.68,472.83 229.23,472.39" fill="#85601c" stroke="#85601c" stroke-width="0.5"/><polygon points="233.58,471.42 235.15,476.23 231.06,479.20 226.97,476.23 228.53,471.42" fill="#b9b432" stroke="#b9b432" stroke-width="0.6" stroke-linejoin="round"/>
<text class="s" transform="translate(238.26 477.50) scale(0.952 1)">6:09am</text>
<polygon points="197.60,482.20 199.42,486.39 203.97,486.83 200.55,489.86 201.54,494.32 197.60,492.00 193.66,494.32 194.65,489.86 191.23,486.83 195.78,486.39" fill="#85601c" stroke="#85601c" stroke-width="0.5"/><polygon points="200.13,485.42 201.69,490.23 197.60,493.20 193.51,490.23 195.07,485.42" fill="#dc3732" stroke="#dc3732" stroke-width="0.6" stroke-linejoin="round"/>
<text class="s" transform="translate(203.80 492.80) scale(0.952 1)">7:40pm</text>
<circle cx="215.5" cy="502" r="5" fill="#ffffcc" stroke="#8c8c8c" stroke-width="1"/>
<text class="s" transform="translate(222.58 505.40) scale(0.952 1)">1:17am</text>
<polygon points="307.59,468.20 309.42,472.39 313.97,472.83 310.54,475.86 311.53,480.32 307.59,478.00 303.65,480.32 304.64,475.86 301.22,472.83 305.77,472.39" fill="#85601c" stroke="#85601c" stroke-width="0.5"/><polygon points="310.12,471.42 311.68,476.23 307.59,479.20 303.50,476.23 305.07,471.42" fill="#b9b432" stroke="#b9b432" stroke-width="0.6" stroke-linejoin="round"/>
<text class="s" transform="translate(314.79 477.50) scale(0.952 1)">6:08am</text>
<polygon points="274.24,482.20 276.07,486.39 280.62,486.83 277.19,489.86 278.18,494.32 274.24,492.00 270.31,494.32 271.30,489.86 267.87,486.83 272.42,486.39" fill="#85601c" stroke="#85601c" stroke-width="0.5"/><polygon points="276.77,485.42 278.33,490.23 274.24,493.20 270.15,490.23 271.72,485.42" fill="#dc3732" stroke="#dc3732" stroke-width="0.6" stroke-linejoin="round"/>
<text class="s" transform="translate(280.44 492.80) scale(0.952 1)">7:41pm</text>
<circle cx="294.5" cy="502" r="5" fill="#ffffcc" stroke="#8c8c8c" stroke-width="1"/>
<text class="s" transform="translate(301.51 505.40) scale(0.952 1)">2:01am</text>
<polygon points="384.13,468.20 385.95,472.39 390.50,472.83 387.08,475.86 388.07,480.32 384.13,478.00 380.19,480.32 381.18,475.86 377.76,472.83 382.31,472.39" fill="#85601c" stroke="#85601c" stroke-width="0.5"/><polygon points="386.66,471.42 388.22,476.23 384.13,479.20 380.04,476.23 381.60,471.42" fill="#b9b432" stroke="#b9b432" stroke-width="0.6" stroke-linejoin="round"/>
<text class="s" transform="translate(391.33 477.50) scale(0.952 1)">6:07am</text>
<polygon points="350.83,482.20 352.66,486.39 357.21,486.83 353.78,489.86 354.77,494.32 350.83,492.00 346.90,494.32 347.89,489.86 344.46,486.83 349.01,486.39" fill="#85601c" stroke="#85601c" stroke-width="0.5"/><polygon points="353.36,485.42 354.92,490.23 350.83,493.20 346.74,490.23 348.31,485.42" fill="#dc3732" stroke="#dc3732" stroke-width="0.6" stroke-linejoin="round"/>
<text class="s" transform="translate(357.03 492.80) scale(0.952 1)">7:41pm</text>
<circle cx="373.3" cy="502" r="5" fill="#ffffcc" stroke="#8c8c8c" stroke-width="1"/>
<text class="s" transform="translate(380.33 505.40) scale(0.952 1)">2:43am</text>
<polygon points="460.67,468.20 462.49,472.39 467.04,472.83 463.61,475.86 464.60,480.32 460.67,478.00 456.73,480.32 457.72,475.86 454.29,472.83 458.84,472.39" fill="#85601c" stroke="#85601c" stroke-width="0.5"/><polygon points="463.19,471.42 464.76,476.23 460.67,479.20 456.58,476.23 458.14,471.42" fill="#b9b432" stroke="#b9b432" stroke-width="0.6" stroke-linejoin="round"/>
<text class="s" transform="translate(467.87 477.50) scale(0.952 1)">6:06am</text>
<polygon points="427.48,482.20 429.30,486.39 433.85,486.83 430.43,489.86 431.42,494.32 427.48,492.00 423.54,494.32 424.53,489.86 421.11,486.83 425.66,486.39" fill="#85601c" stroke="#85601c" stroke-width="0.5"/><polygon points="430.01,485.42 431.57,490.23 427.48,493.20 423.39,490.23 424.95,485.42" fill="#dc3732" stroke="#dc3732" stroke-width="0.6" stroke-linejoin="round"/>
<text class="s" transform="translate(433.68 492.80) scale(0.952 1)">7:42pm</text>
<circle cx="452.1" cy="502" r="5" fill="#ffffcc" stroke="#8c8c8c" stroke-width="1"/>
<text class="s" transform="translate(459.10 505.40) scale(0.952 1)">3:24am</text>
<polygon points="537.20,468.20 539.03,472.39 543.58,472.83 540.15,475.86 541.14,480.32 537.20,478.00 533.27,480.32 534.26,475.86 530.83,472.83 535.38,472.39" fill="#85601c" stroke="#85601c" stroke-width="0.5"/><polygon points="539.73,471.42 541.29,476.23 537.20,479.20 533.11,476.23 534.68,471.42" fill="#b9b432" stroke="#b9b432" stroke-width="0.6" stroke-linejoin="round"/>
<text class="s" transform="translate(544.40 477.50) scale(0.952 1)">6:05am</text>
<polygon points="504.12,482.20 505.94,486.39 510.49,486.83 507.07,489.86 508.06,494.32 504.12,492.00 500.18,494.32 501.17,489.86 497.75,486.83 502.30,486.39" fill="#85601c" stroke="#85601c" stroke-width="0.5"/><polygon points="506.65,485.42 508.21,490.23 504.12,493.20 500.03,490.23 501.59,485.42" fill="#dc3732" stroke="#dc3732" stroke-width="0.6" stroke-linejoin="round"/>
<text class="s" transform="translate(510.32 492.80) scale(0.952 1)">7:43pm</text>
<circle cx="530.8" cy="502" r="5" fill="#ffffcc" stroke="#8c8c8c" stroke-width="1"/>
<text class="s" transform="translate(537.82 505.40) scale(0.952 1)">4:04am</text>
<polygon points="613.74,468.20 615.56,472.39 620.11,472.83 616.69,475.86 617.68,480.32 613.74,478.00 609.80,480.32 610.79,475.86 607.37,472.83 611.92,472.39" fill="#85601c" stroke="#85601c" stroke-width="0.5"/><polygon points="616.27,471.42 617.83,476.23 613.74,479.20 609.65,476.23 611.21,471.42" fill="#b9b432" stroke="#b9b432" stroke-width="0.6" stroke-linejoin="round"/>
<text class="s" transform="translate(620.94 477.50) scale(0.952 1)">6:04am</text>
<polygon points="580.76,482.20 582.59,486.39 587.14,486.83 583.71,489.86 584.70,494.32 580.76,492.00 576.83,494.32 577.82,489.86 574.39,486.83 578.94,486.39" fill="#85601c" stroke="#85601c" stroke-width="0.5"/><polygon points="583.29,485.42 584.85,490.23 580.76,493.20 576.67,490.23 578.24,485.42" fill="#dc3732" stroke="#dc3732" stroke-width="0.6" stroke-linejoin="round"/>
<text class="s" transform="translate(586.96 492.80) scale(0.952 1)">7:44pm</text>
<circle cx="609.5" cy="502" r="5" fill="#ffffcc" stroke="#8c8c8c" stroke-width="1"/>
<text class="s" transform="translate(616.54 505.40) scale(0.952 1)">4:44am</text>
<polygon points="690.28,468.20 692.10,472.39 696.65,472.83 693.23,475.86 694.22,480.32 690.28,478.00 686.34,480.32 687.33,475.86 683.90,472.83 688.45,472.39" fill="#85601c" stroke="#85601c" stroke-width="0.5"/><polygon points="692.80,471.42 694.37,476.23 690.28,479.20 686.19,476.23 687.75,471.42" fill="#b9b432" stroke="#b9b432" stroke-width="0.6" stroke-linejoin="round"/>
<text class="s" transform="translate(697.48 477.50) scale(0.952 1)">6:03am</text>
<polygon points="657.41,482.20 659.23,486.39 663.78,486.83 660.36,489.86 661.35,494.32 657.41,492.00 653.47,494.32 654.46,489.86 651.04,486.83 655.59,486.39" fill="#85601c" stroke="#85601c" stroke-width="0.5"/><polygon points="659.93,485.42 661.50,490.23 657.41,493.20 653.32,490.23 654.88,485.42" fill="#dc3732" stroke="#dc3732" stroke-width="0.6" stroke-linejoin="round"/>
<text class="s" transform="translate(663.61 492.80) scale(0.952 1)">7:45pm</text>
<circle cx="688.4" cy="502" r="5" fill="#ffffcc" stroke="#8c8c8c" stroke-width="1"/>
<text class="s" transform="translate(695.41 505.40) scale(0.952 1)">5:27am</text>
<circle cx="170.6" cy="515.4" r="5" fill="#ccccb4" stroke="#777" stroke-width="1"/>
<text class="s" transform="translate(177.88 519.00) scale(0.952 1)">11:12am</text>
<circle cx="250.2" cy="515.4" r="5" fill="#ccccb4" stroke="#777" stroke-width="1"/>
<text class="s" transform="translate(257.50 519.00) scale(0.952 1)">12:09pm</text>
<circle cx="330.0" cy="515.4" r="5" fill="#ccccb4" stroke="#777" stroke-width="1"/>
<text class="s" transform="translate(337.28 519.00) scale(0.952 1)">1:09pm</text>
<circle cx="409.9" cy="515.4" r="5" fill="#ccccb4" stroke="#777" stroke-width="1"/>
<text class="s" transform="translate(417.23 519.00) scale(0.952 1)">2:12pm</text>
<circle cx="490.0" cy="515.4" r="5" fill="#ccccb4" stroke="#777" stroke-width="1"/>
<text class="s" transform="translate(497.33 519.00) scale(0.952 1)">3:18pm</text>
<circle cx="570.2" cy="515.4" r="5" fill="#ccccb4" stroke="#777" stroke-width="1"/>
<text class="s" transform="translate(577.48 519.00) scale(0.952 1)">4:25pm</text>
<circle cx="650.4" cy="515.4" r="5" fill="#ccccb4" stroke="#777" stroke-width="1"/>
<text class="s" transform="translate(657.74 519.00) scale(0.952 1)">5:34pm</text>
<text class="s" transform="translate(220.70 533.10) scale(0.9596159999999999 1)">Last Quarter | 8:30pm</text>
</svg></body></html>
